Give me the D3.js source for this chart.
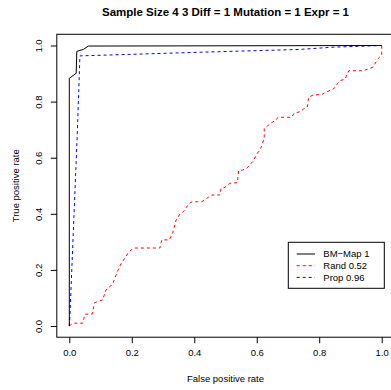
<!DOCTYPE html>
<html>
<head>
<meta charset="utf-8">
<script src="https://cdnjs.cloudflare.com/ajax/libs/d3/7.8.5/d3.min.js"></script>
<style>
  body { margin: 0; background: #fff; }
  text { font-family: "Liberation Sans", Arial, sans-serif; fill: #000; }
</style>
</head>
<body>
<div id="chart"></div>
<script>
// ROC curves: [false positive rate, true positive rate]
var bmFpr = [0, 0, 0.022, 0.024, 0.045, 0.061, 1];
var bmTpr = [0, 0.883, 0.901, 0.979, 0.986, 0.998, 1];

var randFpr = [0, 0.011, 0.043, 0.050, 0.073, 0.081, 0.107, 0.117, 0.130, 0.140, 0.154, 0.165, 0.178, 0.188, 0.200, 0.207,
  0.290, 0.296, 0.320, 0.331, 0.342, 0.354, 0.365, 0.376, 0.384, 0.393, 0.424, 0.440, 0.456, 0.482, 0.486, 0.498,
  0.514, 0.538, 0.542, 0.555, 0.568, 0.578, 0.589, 0.600, 0.613, 0.624, 0.624, 0.634, 0.648, 0.661, 0.668, 0.712,
  0.719, 0.738, 0.749, 0.762, 0.766, 0.781, 0.808, 0.818, 0.835, 0.848, 0.859, 0.867, 0.883, 0.888, 0.895, 0.941,
  0.954, 0.971, 0.980, 0.989, 1, 1];
var randTpr = [0, 0.010, 0.010, 0.042, 0.042, 0.083, 0.093, 0.128, 0.140, 0.153, 0.194, 0.221, 0.242, 0.260, 0.273, 0.278,
  0.278, 0.307, 0.307, 0.332, 0.378, 0.399, 0.407, 0.425, 0.437, 0.443, 0.443, 0.455, 0.467, 0.467, 0.491, 0.494,
  0.509, 0.511, 0.554, 0.556, 0.562, 0.574, 0.589, 0.612, 0.634, 0.669, 0.705, 0.713, 0.725, 0.734, 0.744, 0.744,
  0.758, 0.764, 0.773, 0.780, 0.815, 0.824, 0.825, 0.832, 0.840, 0.847, 0.865, 0.875, 0.880, 0.895, 0.910, 0.910,
  0.915, 0.922, 0.938, 0.954, 0.966, 1];

var propFpr = [0, 0.002, 0.026, 0.034, 0.419, 0.738, 0.844, 1];
var propTpr = [0, 0.036, 0.699, 0.963, 0.976, 0.986, 0.994, 1];

var ticks = [0, 0.2, 0.4, 0.6, 0.8, 1.0];
var legendLabels = ["BM\u2212Map 1", "Rand 0.52", "Prop 0.96"];
var seriesColors = ["#000000", "#FF0000", "#0000FF"];
var seriesDash = [null, "3,3", "3,3"];

var W = 391, H = 390;
var svg = d3.select("#chart").append("svg").attr("width", W).attr("height", H);

var x = d3.scaleLinear().domain([0, 1]).range([69.3, 381.7]);
var y = d3.scaleLinear().domain([0, 1]).range([326, 45.5]);

// plot box (R extends range by 4%)
var x0 = x(-0.04), x1 = x(1.04), yb = y(-0.04), yt = y(1.04);
svg.append("rect").attr("x", x0).attr("y", yt).attr("width", x1 - x0).attr("height", yb - yt)
  .attr("fill", "none").attr("stroke", "#000").attr("stroke-width", 1);

var fmt = d3.format(".1f");
var xAxis = svg.append("g").attr("transform", "translate(0," + yb + ")")
  .call(d3.axisBottom(x).tickValues(ticks).tickFormat(fmt).tickSize(6).tickPadding(6));
var yAxis = svg.append("g").attr("transform", "translate(" + x0 + ",0)")
  .call(d3.axisLeft(y).tickValues(ticks).tickFormat(fmt).tickSize(6));
[xAxis, yAxis].forEach(function(a) {
  a.select(".domain").remove();
  a.selectAll("line").attr("stroke", "#000");
  a.selectAll("text").style("font-family", "Liberation Sans, Arial, sans-serif").style("font-size", "9.5px");
});
yAxis.selectAll(".tick text")
  .attr("x", null).attr("dy", null).attr("text-anchor", "middle")
  .attr("transform", "translate(-14,0) rotate(-90)")
  .attr("dy", "0.35em")
  .attr("dx", null);
yAxis.selectAll(".tick text").attr("x", 0).attr("y", -4);

// curves
var line = d3.line().x(function(d) { return x(d[0]); }).y(function(d) { return y(d[1]); });
var curves = [d3.zip(bmFpr, bmTpr), d3.zip(randFpr, randTpr), d3.zip(propFpr, propTpr)];
var order = [1, 2, 0];
order.forEach(function(i) {
  svg.append("path").datum(curves[i]).attr("d", line)
    .attr("fill", "none").attr("stroke", seriesColors[i]).attr("stroke-width", 1)
    .attr("stroke-dasharray", seriesDash[i]);
});

// title and axis labels
svg.append("text").attr("x", (x0 + x1) / 2).attr("y", 16).attr("text-anchor", "middle")
  .style("font-size", "11.5px").style("font-weight", "bold")
  .text("Sample Size 4 3 Diff = 1 Mutation = 1 Expr = 1");
svg.append("text").attr("x", (x0 + x1) / 2).attr("y", 382).attr("text-anchor", "middle")
  .style("font-size", "9.5px").text("False positive rate");
svg.append("text").attr("transform", "translate(19," + ((yt + yb) / 2) + ") rotate(-90)")
  .attr("text-anchor", "middle").style("font-size", "9.5px").text("True positive rate");

// legend
var lg = svg.append("g");
lg.append("rect").attr("x", 288.3).attr("y", 242.3).attr("width", 96).attr("height", 46)
  .attr("fill", "#fff").attr("stroke", "#000").attr("stroke-width", 1);
legendLabels.forEach(function(lab, i) {
  var yy = 254 + i * 11.7;
  lg.append("line").attr("x1", 296.7).attr("x2", 315).attr("y1", yy).attr("y2", yy)
    .attr("stroke", seriesColors[i]).attr("stroke-width", 1).attr("stroke-dasharray", seriesDash[i]);
  lg.append("text").attr("x", 323.3).attr("y", yy).attr("dy", "0.35em")
    .style("font-size", "9.5px").text(lab);
});
</script>
</body>
</html>
